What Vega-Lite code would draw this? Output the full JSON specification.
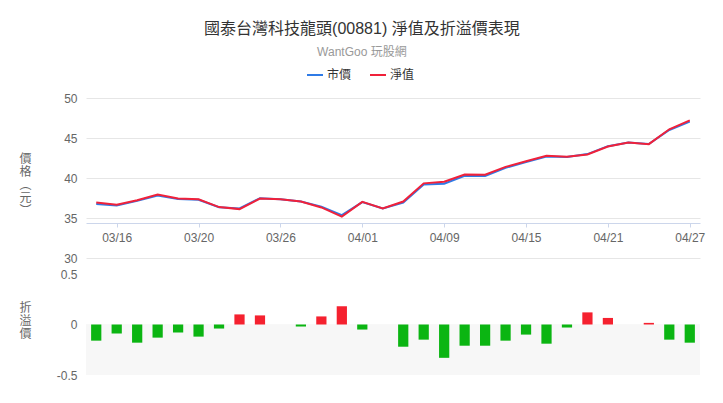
{
  "$schema": "https://vega.github.io/schema/vega-lite/v6.json",
  "padding": {"left": 18, "top": 21, "right": 5, "bottom": 5},
  "bounds": "flush",
  "spacing": 16,
  "title": {
    "text": "國泰台灣科技龍頭(00881) 淨值及折溢價表現",
    "subtitle": "WantGoo 玩股網",
    "fontSize": 16,
    "fontWeight": "normal",
    "color": "#333333",
    "subtitleColor": "#999999",
    "subtitleFontSize": 12,
    "subtitlePadding": 10,
    "anchor": "middle",
    "frame": "bounds",
    "offset": 8
  },
  "datasets": {
    "etf": [
      {"date": "03/13", "price": 36.75, "nav": 36.94, "premium": -0.16},
      {"date": "03/16", "price": 36.55, "nav": 36.65, "premium": -0.09},
      {"date": "03/17", "price": 37.14, "nav": 37.23, "premium": -0.18},
      {"date": "03/18", "price": 37.82, "nav": 37.93, "premium": -0.13},
      {"date": "03/19", "price": 37.36, "nav": 37.43, "premium": -0.08},
      {"date": "03/20", "price": 37.28, "nav": 37.35, "premium": -0.12},
      {"date": "03/23", "price": 36.34, "nav": 36.36, "premium": -0.04},
      {"date": "03/24", "price": 36.2, "nav": 36.11, "premium": 0.1},
      {"date": "03/25", "price": 37.48, "nav": 37.43, "premium": 0.09},
      {"date": "03/26", "price": 37.35, "nav": 37.35, "premium": 0},
      {"date": "03/27", "price": 37.05, "nav": 37.06, "premium": -0.02},
      {"date": "03/30", "price": 36.42, "nav": 36.32, "premium": 0.08},
      {"date": "03/31", "price": 35.36, "nav": 35.17, "premium": 0.18},
      {"date": "04/01", "price": 36.98, "nav": 37.02, "premium": -0.05},
      {"date": "04/02", "price": 36.2, "nav": 36.2, "premium": 0},
      {"date": "04/07", "price": 36.94, "nav": 37.06, "premium": -0.22},
      {"date": "04/08", "price": 39.2, "nav": 39.33, "premium": -0.15},
      {"date": "04/09", "price": 39.29, "nav": 39.53, "premium": -0.33},
      {"date": "04/10", "price": 40.28, "nav": 40.44, "premium": -0.21},
      {"date": "04/13", "price": 40.24, "nav": 40.4, "premium": -0.21},
      {"date": "04/14", "price": 41.27, "nav": 41.39, "premium": -0.16},
      {"date": "04/15", "price": 42.01, "nav": 42.09, "premium": -0.1},
      {"date": "04/16", "price": 42.68, "nav": 42.79, "premium": -0.19},
      {"date": "04/17", "price": 42.62, "nav": 42.67, "premium": -0.03},
      {"date": "04/20", "price": 42.99, "nav": 42.95, "premium": 0.12},
      {"date": "04/21", "price": 43.98, "nav": 43.94, "premium": 0.065},
      {"date": "04/22", "price": 44.44, "nav": 44.44, "premium": 0},
      {"date": "04/23", "price": 44.25, "nav": 44.23, "premium": 0.016},
      {"date": "04/24", "price": 46.0, "nav": 46.09, "premium": -0.15},
      {"date": "04/27", "price": 47.05, "nav": 47.2, "premium": -0.18}
    ]
  },
  "config": {
    "font": "Liberation Sans, Noto Sans CJK TC, sans-serif",
    "view": {"stroke": null},
    "axis": {
      "labelColor": "#666666",
      "labelFontSize": 12,
      "labelFont": "Liberation Sans, Noto Sans CJK TC, sans-serif",
      "titleColor": "#666666",
      "titleFontSize": 12,
      "titleFontWeight": "normal",
      "titleFont": "Noto Sans CJK TC, sans-serif",
      "gridColor": "#e6e6e6",
      "gridWidth": 1
    },
    "legend": {
      "labelFont": "Noto Sans CJK TC, sans-serif",
      "labelFontSize": 12,
      "labelColor": "#333333"
    }
  },
  "resolve": {"scale": {"x": "independent", "color": "independent"}},
  "vconcat": [
    {
      "width": 614,
      "height": 160,
      "data": {"name": "etf"},
      "encoding": {
        "x": {
          "field": "date",
          "type": "ordinal",
          "sort": null,
          "scale": {"type": "point", "padding": 0.5},
          "axis": {
            "title": null,
            "values": ["03/16", "03/20", "03/26", "04/01", "04/09", "04/15", "04/21", "04/27"],
            "offset": -35,
            "labelAngle": 0,
            "domainColor": "#ccd6eb",
            "tickColor": "#ccd6eb",
            "tickSize": 4,
            "labelPadding": 5,
            "grid": false
          }
        }
      },
      "layer": [
        {
          "mark": {"type": "line", "strokeWidth": 2},
          "encoding": {
            "y": {
              "field": "price",
              "type": "quantitative",
              "scale": {"domain": [30, 50], "nice": false, "zero": false},
              "axis": {
                "values": [30, 35, 40, 45, 50],
                "labelOverlap": false,
                "title": ["價", "格", "︵", "元", "︶"],
                "titleAngle": 0,
                "titleAlign": "center",
                "titleBaseline": "middle",
                "titleLineHeight": 13,
                "titleX": -61,
                "titleY": 60,
                "domain": false,
                "ticks": false,
                "labelPadding": 9
              }
            },
            "color": {
              "datum": "市價",
              "type": "nominal",
              "scale": {"domain": ["市價", "淨值"], "range": ["#2f7be6", "#f0213a"]},
              "legend": {
                "title": null,
                "orient": "none",
                "direction": "horizontal",
                "legendX": 220,
                "legendY": -32,
                "symbolType": "stroke",
                "symbolStrokeWidth": 2,
                "symbolSize": 256,
                "labelOffset": 3,
                "columnPadding": 14
              }
            }
          }
        },
        {
          "mark": {"type": "line", "strokeWidth": 2},
          "encoding": {
            "y": {
              "field": "nav",
              "type": "quantitative",
              "scale": {"domain": [30, 50], "nice": false, "zero": false},
              "axis": {
                "values": [30, 35, 40, 45, 50],
                "labelOverlap": false,
                "title": ["價", "格", "︵", "元", "︶"],
                "titleAngle": 0,
                "titleAlign": "center",
                "titleBaseline": "middle",
                "titleLineHeight": 13,
                "titleX": -61,
                "titleY": 60,
                "domain": false,
                "ticks": false,
                "labelPadding": 9
              }
            },
            "color": {"datum": "淨值", "type": "nominal"}
          }
        }
      ]
    },
    {
      "width": 614,
      "height": 101,
      "data": {"name": "etf"},
      "encoding": {
        "x": {
          "field": "date",
          "type": "ordinal",
          "sort": null,
          "scale": {"type": "band", "paddingInner": 0.5, "paddingOuter": 0.25},
          "axis": null
        }
      },
      "layer": [
        {
          "mark": {"type": "rect", "color": "#f7f7f7"},
          "encoding": {
            "x": null,
            "y": {"datum": 0, "type": "quantitative"},
            "y2": {"datum": -0.5}
          }
        },
        {
          "mark": {"type": "bar"},
          "encoding": {
            "y": {
              "field": "premium",
              "type": "quantitative",
              "scale": {"domain": [-0.5, 0.5], "nice": false},
              "axis": {
                "values": [-0.5, 0, 0.5],
                "labelExpr": "'' + datum.value",
                "title": ["折", "溢", "價"],
                "titleAngle": 0,
                "titleAlign": "center",
                "titleBaseline": "middle",
                "titleLineHeight": 13,
                "titleX": -61,
                "titleY": 33,
                "domain": false,
                "ticks": false,
                "labelPadding": 9,
                "zindex": 0
              }
            },
            "color": {
              "condition": {"test": "datum.premium > 0", "value": "#f5212f"},
              "value": "#0bb512"
            }
          }
        }
      ]
    }
  ]
}
